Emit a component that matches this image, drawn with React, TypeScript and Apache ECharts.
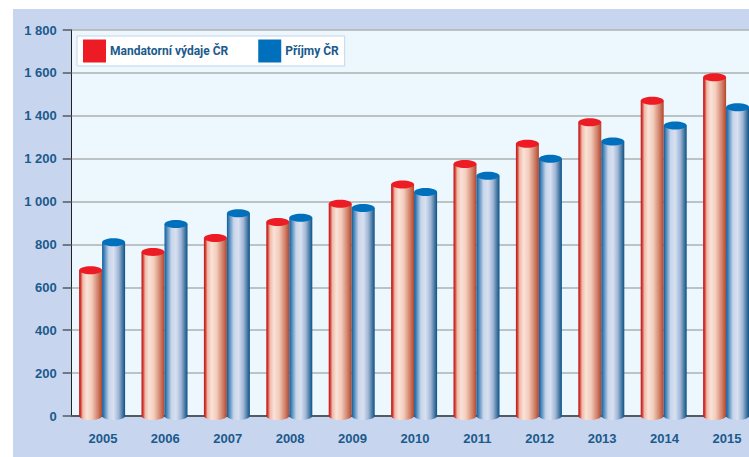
import React, { useEffect, useRef } from "react";
import * as echarts from "echarts";

const years = ["2005", "2006", "2007", "2008", "2009", "2010", "2011", "2012", "2013", "2014", "2015"];
const mandatory = [680, 765, 830, 905, 990, 1080, 1175, 1270, 1370, 1470, 1580];
const revenue = [810, 895, 945, 925, 970, 1045, 1120, 1200, 1280, 1355, 1440];

const TEXT = "#1b5a8c";
const BAR_W = 23;
const RY = 4;
const SHIFT = -0.8;

const redBody = [
  { offset: 0, color: "#c4161c" },
  { offset: 0.06, color: "#d0332a" },
  { offset: 0.16, color: "#eeb9a6" },
  { offset: 0.33, color: "#fae2d8" },
  { offset: 0.55, color: "#f3ccbc" },
  { offset: 0.82, color: "#cf8068" },
  { offset: 1, color: "#b5452c" },
];
const blueBody = [
  { offset: 0, color: "#0b5c98" },
  { offset: 0.1, color: "#4a86ba" },
  { offset: 0.3, color: "#c8d6ea" },
  { offset: 0.5, color: "#d8e0f1" },
  { offset: 0.72, color: "#9fb6d6" },
  { offset: 0.9, color: "#42749f" },
  { offset: 1, color: "#0a5288" },
];

function cylinder(dir: number, stops: any[], cap: string) {
  return (_: any, api: any) => {
    const [cx, top] = api.coord([api.value(0), api.value(1)]);
    const [, base] = api.coord([api.value(0), 0]);
    const x = cx + SHIFT + (dir * BAR_W) / 2;
    const fill = new echarts.graphic.LinearGradient(0, 0, 1, 0, stops);
    return {
      type: "group",
      children: [
        { type: "ellipse", shape: { cx: x, cy: base, rx: BAR_W / 2, ry: RY }, style: { fill } },
        { type: "rect", shape: { x: x - BAR_W / 2, y: top, width: BAR_W, height: base - top }, style: { fill } },
        { type: "ellipse", shape: { cx: x, cy: top, rx: BAR_W / 2, ry: RY }, style: { fill: cap } },
      ],
    };
  };
}

export default function App() {
  const ref = useRef<HTMLDivElement>(null);
  useEffect(() => {
    document.body.style.margin = "0";
    document.body.style.overflow = "hidden";
    const chart = echarts.init(ref.current!, undefined, { renderer: "svg" });
    chart.setOption({
      animation: false,
      backgroundColor: "#ffffff",
      graphic: [
        {
          type: "rect",
          z: -10,
          silent: true,
          shape: { x: 13, y: 9, width: 746, height: 448 },
          style: { fill: "#c8d5ee" },
        },
      ],
      grid: {
        left: 71.7,
        top: 30,
        bottom: 41,
        right: 0.9,
        show: true,
        backgroundColor: "#edf8fe",
        borderWidth: 0,
      },
      legend: {
        left: 77,
        top: 36,
        orient: "horizontal",
        icon: "rect",
        itemWidth: 23,
        itemHeight: 23,
        itemGap: 30,
        padding: [3.5, 6, 3.5, 6],
        backgroundColor: "#ffffff",
        borderColor: "#c4d3ec",
        borderWidth: 1,
        selectedMode: false,
        textStyle: {
          fontFamily: "Roboto",
          fontWeight: "bold",
          fontSize: 12,
          color: TEXT,
          padding: [0, 0, 0, -1],
        },
        data: ["Mandatorní výdaje ČR", "Příjmy ČR"],
      },
      xAxis: {
        type: "category",
        data: years,
        axisLine: { lineStyle: { color: "#555a60", width: 2 } },
        axisTick: { length: 5, lineStyle: { color: "#222222", width: 1 } },
        axisLabel: { margin: 16, color: TEXT, fontFamily: "Liberation Sans", fontWeight: "bold", fontSize: 13 },
        splitLine: { show: false },
      },
      yAxis: {
        type: "value",
        min: 0,
        max: 1800,
        interval: 200,
        axisLine: { show: true, lineStyle: { color: "#222222", width: 1 } },
        axisTick: { show: true, length: 9, lineStyle: { color: "#555a60", width: 1.5 } },
        axisLabel: {
          margin: 15,
          color: TEXT,
          fontFamily: "Liberation Sans",
          fontWeight: "bold",
          fontSize: 13,
          formatter: (v: number) => (v >= 1000 ? `${Math.floor(v / 1000)} ${String(v % 1000).padStart(3, "0")}` : `${v}`),
        },
        splitLine: { show: true, lineStyle: { color: "#adb0b2", width: 1.5 } },
      },
      series: [
        {
          name: "Mandatorní výdaje ČR",
          type: "custom",
          clip: false,
          itemStyle: { color: "#ed1c24" },
          encode: { x: 0, y: 1 },
          data: years.map((y, i) => [i, mandatory[i]]),
          renderItem: cylinder(-1, redBody, "#ed1c24"),
        },
        {
          name: "Příjmy ČR",
          type: "custom",
          clip: false,
          itemStyle: { color: "#0070bc" },
          encode: { x: 0, y: 1 },
          data: years.map((y, i) => [i, revenue[i]]),
          renderItem: cylinder(1, blueBody, "#0070bc"),
        },
      ],
    });
    return () => chart.dispose();
  }, []);
  return (
    <div style={{ width: 749, height: 457, overflow: "hidden" }}>
      <div ref={ref} style={{ width: 759, height: 457 }} />
    </div>
  );
}
